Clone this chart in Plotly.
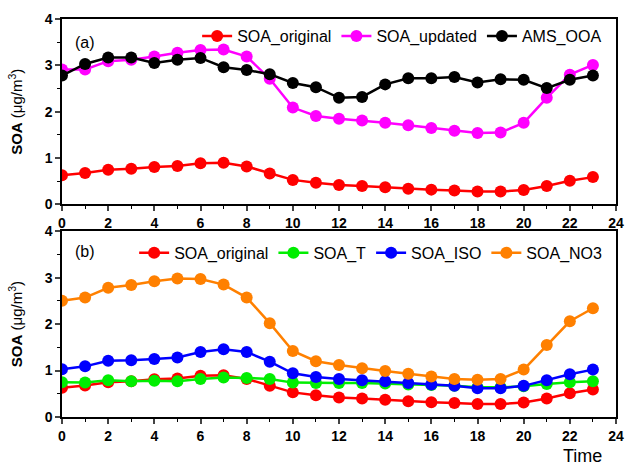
import plotly.graph_objects as go

hours = list(range(24))

soa_original = [0.63, 0.68, 0.75, 0.77, 0.81, 0.83, 0.89, 0.90, 0.82, 0.67, 0.53, 0.47,
                0.42, 0.40, 0.37, 0.34, 0.32, 0.30, 0.28, 0.28, 0.31, 0.40, 0.51, 0.59]
soa_updated = [2.91, 2.91, 3.09, 3.12, 3.19, 3.27, 3.33, 3.34, 3.19, 2.71, 2.09, 1.91,
               1.85, 1.81, 1.76, 1.71, 1.65, 1.59, 1.54, 1.55, 1.76, 2.30, 2.80, 3.01]
ams_ooa = [2.78, 3.03, 3.17, 3.17, 3.05, 3.12, 3.16, 2.96, 2.90, 2.81, 2.62, 2.53,
           2.30, 2.32, 2.59, 2.72, 2.72, 2.75, 2.63, 2.70, 2.69, 2.51, 2.69, 2.78]
soa_t = [0.75, 0.74, 0.79, 0.77, 0.78, 0.77, 0.82, 0.85, 0.84, 0.82, 0.74, 0.73,
         0.73, 0.73, 0.72, 0.70, 0.69, 0.67, 0.64, 0.64, 0.66, 0.71, 0.75, 0.77]
soa_iso = [1.03, 1.09, 1.21, 1.22, 1.25, 1.28, 1.40, 1.46, 1.40, 1.19, 0.94, 0.86,
           0.82, 0.79, 0.77, 0.73, 0.70, 0.67, 0.62, 0.62, 0.67, 0.79, 0.92, 1.02]
soa_no3 = [2.50, 2.57, 2.78, 2.84, 2.92, 2.98, 2.97, 2.85, 2.57, 2.02, 1.42, 1.20,
           1.12, 1.05, 0.99, 0.93, 0.87, 0.82, 0.80, 0.82, 1.02, 1.55, 2.06, 2.34]

x_ticks = list(range(0, 25, 2))
y_ticks = [0, 1, 2, 3, 4]

FONT = "Liberation Sans, Arial, sans-serif"

top_series = [("SOA_original", soa_original, "#FF0000"),
              ("SOA_updated", soa_updated, "#FF00FF"),
              ("AMS_OOA", ams_ooa, "#000000")]
bot_series = [("SOA_original", soa_original, "#FF0000"),
              ("SOA_T", soa_t, "#00EE00"),
              ("SOA_ISO", soa_iso, "#0000FF"),
              ("SOA_NO3", soa_no3, "#FF8000")]

fig = go.Figure()
for name, vals, col in top_series:
    fig.add_trace(go.Scatter(x=hours, y=vals, name=name, mode="lines+markers",
                             line=dict(color=col, width=2.5),
                             marker=dict(color=col, size=12),
                             xaxis="x", yaxis="y", legend="legend"))
for name, vals, col in bot_series:
    fig.add_trace(go.Scatter(x=hours, y=vals, name=name, mode="lines+markers",
                             line=dict(color=col, width=2.5),
                             marker=dict(color=col, size=12),
                             xaxis="x2", yaxis="y2", legend="legend2"))

xcommon = dict(range=[0, 24], tickvals=x_ticks, ticks="outside", ticklen=5, tickwidth=1.5,
               showline=True, linewidth=1.5, linecolor="black", mirror=True,
               showgrid=False, zeroline=False,
               tickfont=dict(family=FONT, size=14, color="black", weight="bold"),
               minor=dict(dtick=1, ticks="outside", ticklen=3, tickwidth=1.2, tickcolor="black"))
ycommon = dict(range=[0, 4], tickvals=y_ticks, ticks="outside", ticklen=5, tickwidth=1.5,
               showline=True, linewidth=1.5, linecolor="black", mirror=True,
               showgrid=False, zeroline=False,
               tickfont=dict(family=FONT, size=14, color="black", weight="bold"),
               minor=dict(dtick=0.5, ticks="outside", ticklen=3, tickwidth=1.2, tickcolor="black"),
               title=dict(text="<b>SOA</b> (μg/m<sup>3</sup>)",
                          font=dict(family=FONT, size=15, color="black"), standoff=18))

fig.update_layout(
    width=633, height=466,
    margin=dict(l=62, r=9, t=19, b=49),
    paper_bgcolor="white", plot_bgcolor="white",
    font=dict(family=FONT, color="black"),
    xaxis=dict(domain=[0, 1], anchor="y", **xcommon),
    yaxis=dict(domain=[0.534, 1], anchor="x", **ycommon),
    xaxis2=dict(domain=[0, 1], anchor="y2", **xcommon),
    yaxis2=dict(domain=[0, 0.467], anchor="x2", **ycommon),
    legend=dict(orientation="h", x=0.984, xanchor="right", y=1.0, yanchor="top",
                bgcolor="rgba(0,0,0,0)", font=dict(family=FONT, size=16, color="black"),
                itemsizing="trace"),
    legend2=dict(orientation="h", x=0.984, xanchor="right", y=0.455, yanchor="top",
                 bgcolor="rgba(0,0,0,0)", font=dict(family=FONT, size=16, color="black"),
                 itemsizing="trace"),
    annotations=[
        dict(text="(a)", x=0.041, y=0.940, xref="paper", yref="paper", showarrow=False,
             xanchor="center", yanchor="middle",
             font=dict(family=FONT, size=16, color="black")),
        dict(text="(b)", x=0.041, y=0.415, xref="paper", yref="paper", showarrow=False,
             xanchor="center", yanchor="middle",
             font=dict(family=FONT, size=16, color="black")),
        dict(text="Time", x=0.9395, y=-0.099, xref="paper", yref="paper", showarrow=False,
             xanchor="center", yanchor="middle",
             font=dict(family=FONT, size=18, color="black")),
    ],
)

fig.write_html("out.html", config={"displayModeBar": False},
               post_script="document.body.style.margin='0';")
